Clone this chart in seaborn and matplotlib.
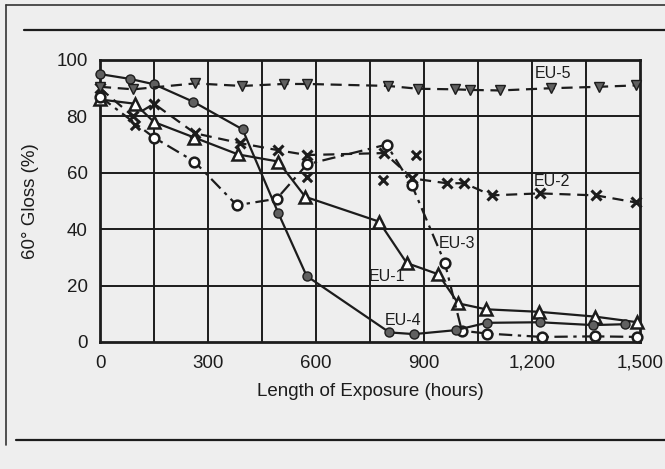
import numpy as np
import pandas as pd
import matplotlib
matplotlib.use("Agg")
import matplotlib.pyplot as plt
from matplotlib.ticker import FuncFormatter
import seaborn as sns

# ============================================================
# DATA
# ============================================================
eu1_hours = [0, 97, 150, 262, 384, 495, 570, 775, 852, 940, 995, 1072, 1220, 1375, 1493]
eu1_gloss = [86, 84.5, 78, 72.5, 66.5, 64, 51.5, 42.7, 28, 24, 13.7, 11.6, 10.7, 9, 7]

eu2_hours = [0, 92, 150, 264, 390, 495, 575, 790, 868, 963, 1012, 1088, 1221, 1377, 1488]
eu2_gloss = [90, 80, 84.5, 74, 70.5, 68, 66.3, 67, 58, 56.3, 56.3, 52, 52.7, 52, 49.5]
# stray EU-2 readings that are not joined by the line
eu2_extra_hours = [97, 575, 787, 878]
eu2_extra_gloss = [77, 58.5, 57.4, 66.3]

eu3_hours = [0, 150, 262, 380, 491, 575, 796, 866, 958, 1005, 1075, 1227, 1375, 1493]
eu3_gloss = [87, 72.5, 64, 48.5, 50.8, 63, 70, 55.7, 28, 4, 3, 1.8, 2, 1.8]

eu4_hours = [0, 83, 150, 259, 396, 495, 574, 804, 872, 988, 1074, 1222, 1369, 1458]
eu4_gloss = [95, 93.3, 91.4, 85.2, 75.4, 45.8, 23.4, 3.4, 2.8, 4.2, 6.8, 7, 6, 6.3]

eu5_hours = [0, 93, 264, 394, 511, 576, 801, 884, 986, 1027, 1111, 1254, 1387, 1489]
eu5_gloss = [90.5, 89.6, 91.7, 90.8, 91.5, 91.5, 90.8, 89.8, 89.6, 89.4, 89.2, 90, 90.5, 91]

series_names = ["EU-1", "EU-2", "EU-3", "EU-4", "EU-5"]
label_x = [796, 1254, 993, 841, 1258]
label_y = [23.4, 57, 35, 7.8, 95.3]

x_ticks = [0, 300, 600, 900, 1200, 1500]
y_ticks = [0, 20, 40, 60, 80, 100]

frames = []
for name, hx, gy in [("EU-1", eu1_hours, eu1_gloss), ("EU-2", eu2_hours, eu2_gloss),
                     ("EU-3", eu3_hours, eu3_gloss), ("EU-4", eu4_hours, eu4_gloss),
                     ("EU-5", eu5_hours, eu5_gloss)]:
    frames.append(pd.DataFrame({"series": name, "hours": hx, "gloss": gy}))
df = pd.concat(frames, ignore_index=True)
extra = pd.DataFrame({"hours": eu2_extra_hours, "gloss": eu2_extra_gloss})

# ============================================================
# STYLE
# ============================================================
sns.set_style("white")
plt.rcParams["font.family"] = ["Liberation Sans Narrow", "Liberation Sans", "DejaVu Sans"]

ink = "#1c1c1c"
fill = "#606060"
bg = "#eeeeee"
styles = {
    "EU-1": dict(marker="^", ls="-", mfc="white", ms=8, mew=1.8),
    "EU-2": dict(marker="x", ls=(0, (5, 3)), mfc=ink, ms=7, mew=2.2),
    "EU-3": dict(marker="o", ls=(0, (6, 2.5, 1.5, 2.5)), mfc="white", ms=7, mew=1.8),
    "EU-4": dict(marker="o", ls="-", mfc=fill, ms=6.5, mew=1.0),
    "EU-5": dict(marker="v", ls=(0, (5, 3)), mfc=fill, ms=7, mew=1.0),
}

fig = plt.figure(figsize=(6.65, 4.69), dpi=100)
fig.patch.set_facecolor(bg)
ax = fig.add_axes([100 / 665, 1 - 342 / 469, 540 / 665, 282 / 469])
ax.set_facecolor(bg)

for name in series_names:
    st = styles[name]
    sub = df[df["series"] == name]
    sns.lineplot(data=sub, x="hours", y="gloss", ax=ax, sort=False, estimator=None,
                 color=ink, linewidth=1.6, linestyle=st["ls"], marker=st["marker"],
                 markersize=st["ms"], markerfacecolor=st["mfc"], markeredgecolor=ink,
                 markeredgewidth=st["mew"], clip_on=False, zorder=3, legend=False)

sns.scatterplot(data=extra, x="hours", y="gloss", ax=ax, marker="x", s=45,
                color=ink, linewidth=2.2, zorder=3, legend=False)

for name, lx, ly in zip(series_names, label_x, label_y):
    ax.text(lx, ly, name, ha="center", va="center", fontsize=11.5, color=ink, zorder=4)

# grid + frame
ax.set_xlim(0, 1500)
ax.set_ylim(0, 100)
for gx in range(150, 1500, 150):
    ax.axvline(gx, color=ink, lw=1.4, zorder=1)
for gy in range(20, 100, 20):
    ax.axhline(gy, color=ink, lw=1.4, zorder=1)
for sp in ax.spines.values():
    sp.set_color(ink)
    sp.set_linewidth(2.0)

ax.set_xticks(x_ticks)
ax.set_yticks(y_ticks)
ax.xaxis.set_major_formatter(FuncFormatter(lambda v, p: f"{int(v):,}"))
ax.tick_params(axis="both", length=0, labelsize=13.5, colors=ink, pad=9)
ax.set_xlabel("Length of Exposure (hours)", fontsize=13.5, color=ink, labelpad=8)
ax.set_ylabel("60° Gloss (%)", fontsize=13.5, color=ink, labelpad=12)

# page rules of the scanned figure
fig.add_artist(plt.Line2D([6 / 665, 6 / 665], [1 - 5 / 469, 1 - 445 / 469], color="#333333", lw=1.2))
fig.add_artist(plt.Line2D([6 / 665, 1.0], [1 - 5 / 469, 1 - 5 / 469], color="#333333", lw=1.2))
fig.add_artist(plt.Line2D([24 / 665, 1.0], [1 - 30 / 469, 1 - 30 / 469], color=ink, lw=1.6))
fig.add_artist(plt.Line2D([16 / 665, 1.0], [1 - 440 / 469, 1 - 440 / 469], color=ink, lw=1.6))

fig.savefig("out.png", dpi=100, facecolor=fig.get_facecolor())
